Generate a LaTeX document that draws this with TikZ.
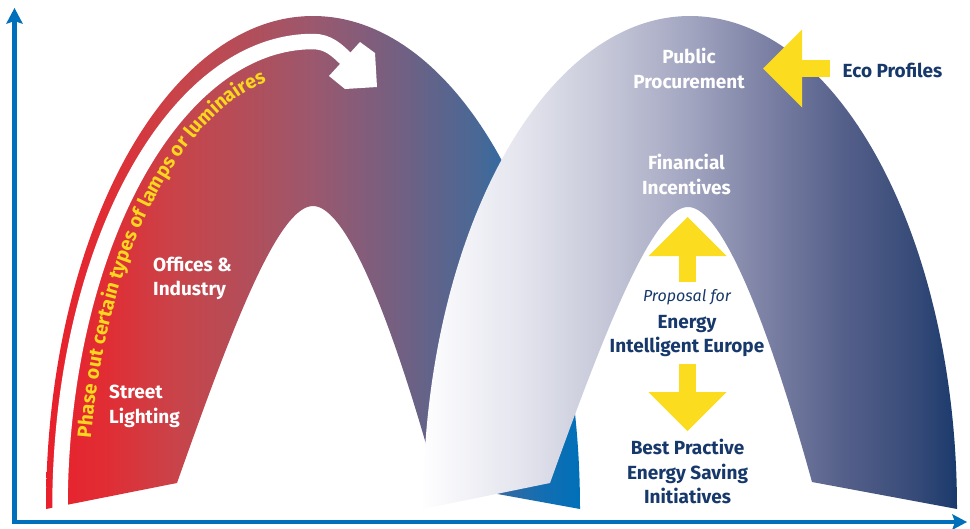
\documentclass[tikz,border=0pt]{standalone}
\usepackage{fontspec}
\setmainfont{Fira Sans}
\usetikzlibrary{arrows.meta,decorations.text}
\definecolor{axisblue}{RGB}{0,112,186}
\definecolor{darkblue}{RGB}{22,56,106}
\definecolor{blockyellow}{RGB}{252,220,30}
\definecolor{phaseyellow}{RGB}{250,214,30}
\pgfdeclarehorizontalshading{leftarchshade}{100bp}{rgb(0bp)=(0.910,0.125,0.169); rgb(25bp)=(0.910,0.125,0.169); rgb(30.6bp)=(0.882,0.176,0.204); rgb(37.3bp)=(0.784,0.267,0.290); rgb(44bp)=(0.698,0.306,0.353); rgb(50bp)=(0.608,0.345,0.431); rgb(58bp)=(0.451,0.376,0.510); rgb(65.6bp)=(0.282,0.408,0.588); rgb(71.3bp)=(0.078,0.431,0.698); rgb(75bp)=(0,0.439,0.722); rgb(100bp)=(0,0.439,0.722)}
\pgfdeclarehorizontalshading{rightarchshade}{100bp}{rgb(0bp)=(0.996,0.996,1); rgb(25bp)=(0.996,0.996,1); rgb(34bp)=(0.894,0.898,0.933); rgb(41.5bp)=(0.784,0.792,0.855); rgb(50bp)=(0.635,0.647,0.753); rgb(57.8bp)=(0.471,0.494,0.635); rgb(64.3bp)=(0.333,0.376,0.541); rgb(71bp)=(0.216,0.294,0.471); rgb(75bp)=(0.102,0.227,0.424); rgb(100bp)=(0.102,0.227,0.424)}
\newcommand{\lblfont}{\fontsize{19}{24.5}\selectfont\bfseries}
\newcommand{\propfont}{\fontsize{16}{20}\selectfont\itshape}
\newcommand{\phasefmt}{\fontsize{19.5}{19.5}\selectfont\bfseries\color{phaseyellow}}
\begin{document}
\begin{tikzpicture}[x=1pt,y=-1pt,
  whitelabel/.style={text=white,font=\lblfont,inner sep=0pt},
  bluelabel/.style={text=darkblue,font=\lblfont,inner sep=0pt,align=center},
  blockarrow/.style={draw=blockyellow,line width=17pt,arrows={-Triangle[length=39pt,width=78pt,line width=0pt]}},
  axisline/.style={draw=axisblue,line width=4.5pt,arrows={Stealth[length=16pt,width=17pt,inset=3pt,line width=0pt]-Stealth[length=15pt,width=16pt,inset=3pt,line width=0pt]}}
]
\useasboundingbox (0,0) rectangle (970,528);

% left arch
\shade[shading=leftarchshade] (46,509) .. controls (46,237) and (165.5,16) .. (313,16)
  .. controls (460.5,16) and (580,237) .. (580,509) -- (437,483)
  .. controls (395,330) and (348,206) .. (313,206)
  .. controls (278,206) and (231,330) .. (177,483) -- cycle;

% white curved arrow band
\draw[white,line width=15.5pt] (60,509) .. controls (60,251) and (173.3,41.5) .. (313,41.5)
  .. controls (328,41.5) and (337,50) .. (347,60);
\fill[white] (360,42) -- (375,53) -- (377,87) -- (345,89) -- (329,76) -- cycle;

% yellow text along the arch
\path[decorate,decoration={text along path,
  text={|\phasefmt|Phase out certain types of lamps or luminaires},
  text align={left indent=71pt}}]
  (88,509) .. controls (88,268) and (188.7,72) .. (313,72);

% right arch
\shade[shading=rightarchshade] (423,509) .. controls (423,237) and (542.5,16) .. (690,16)
  .. controls (837.5,16) and (957,237) .. (957,509) -- (812,482)
  .. controls (770,330) and (723,207) .. (688,207)
  .. controls (653,207) and (605,330) .. (550,483) -- cycle;

% labels
\node[whitelabel,anchor=west,align=left] (street) at (109,406.5) {Street\\Lighting};
\node[whitelabel,anchor=west,align=left] (offices) at (153,278.5) {Offices \&\\Industry};
\node[whitelabel,align=center] (public) at (689,68.5) {Public\\Procurement};
\node[whitelabel,align=center] (financial) at (686.5,174.5) {Financial\\Incentives};
\node[bluelabel] (eco) at (892.5,70.5) {Eco Profiles};
\node[bluelabel,font=\propfont] (proposal) at (687,297) {Proposal for};
\node[bluelabel] (iee) at (687,336) {Energy\\Intelligent Europe};
\node[bluelabel] (best) at (687.5,471.5) {Best Practive\\Energy Saving\\Initiatives};

% yellow block arrows
\coordinate (ecoTail) at (830,68.5);
\coordinate (ecoTip) at (763,68.5);
\coordinate (upTail) at (687.5,282);
\coordinate (upTip) at (687.5,217);
\coordinate (downTail) at (687.5,364);
\coordinate (downTip) at (687.5,431);
\draw[blockarrow] (ecoTail) -- (ecoTip);
\draw[blockarrow] (upTail) -- (upTip);
\draw[blockarrow] (downTail) -- (downTip);

% axes
\coordinate (origin) at (14.5,522);
\coordinate (ytip) at (14.5,8);
\coordinate (xtip) at (967,522);
\draw[axisline] (ytip) -- (origin) -- (xtip);
\end{tikzpicture}
\end{document}
